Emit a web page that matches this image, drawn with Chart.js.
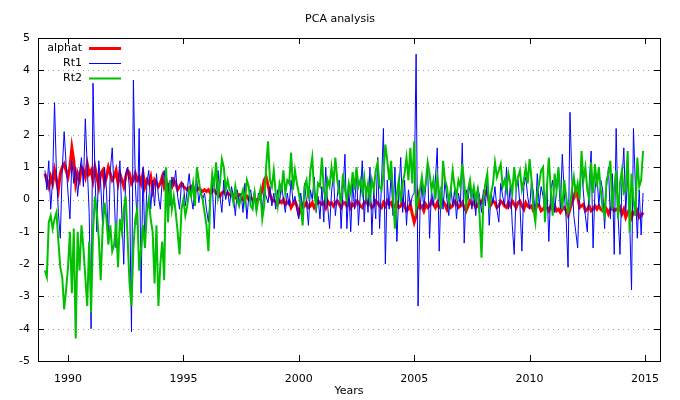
<!DOCTYPE html>
<html>
<head>
<meta charset="utf-8">
<script src="https://cdn.jsdelivr.net/npm/chart.js@4/dist/chart.umd.min.js"></script>
<style>
  body { margin: 0; background: #fff; }
  #box { width: 680px; height: 400px; }
</style>
</head>
<body>
<div id="box"><canvas id="pca" width="680" height="400"></canvas></div>
<script>
// monthly values, Jan 1989 .. Dec 2014 (12 per row)
const startYear = 1989;
const alphat = [
  0.8, 0.6, 0.4, 0.7, 0.5, 0.9, 0.6, 0.3, 0.8, 1.0, 1.1, 0.9,
  0.7, 1.0, 1.6, 1.2, 0.5, 0.8, 0.6, 1.0, 0.9, 0.7, 1.1, 0.8,
  0.9, 0.6, 1.0, 0.7, 0.4, 0.8, 0.9, 0.5, 0.7, 1.0, 0.8, 0.6,
  0.7, 0.9, 0.5, 0.8, 0.6, 0.4, 0.7, 0.9, 0.8, 0.5, 0.6, 0.8,
  0.6, 0.7, 0.5, 0.8, 0.4, 0.6, 0.5, 0.7, 0.3, 0.6, 0.5, 0.4,
  0.5, 0.7, 0.4, 0.6, 0.3, 0.5, 0.4, 0.6, 0.5, 0.3, 0.4, 0.5,
  0.4, 0.35, 0.3, 0.35, 0.4, 0.3, 0.25, 0.3, 0.35, 0.3, 0.25, 0.3,
  0.25, 0.3, 0.2, 0.25, 0.3, 0.2, 0.15, 0.1, 0.2, 0.25, 0.15, 0.2,
  0.15, 0.2, 0.1, 0.05, 0.1, 0.15, 0.1, 0.0, 0.05, 0.1, 0.0, 0.05,
  0.0, 0.05, -0.05, 0.0, 0.1, 0.3, 0.6, 0.7, 0.45, 0.15, 0.0, -0.05,
  -0.05, -0.15, -0.05, -0.1, 0.0, -0.15, -0.1, -0.05, -0.25, -0.15, -0.05, -0.2,
  -0.45, -0.3, -0.15, -0.2, -0.1, -0.25, -0.2, -0.1, -0.25, -0.15, -0.05, -0.1,
  -0.15, -0.1, -0.25, -0.05, -0.15, -0.1, -0.2, -0.1, -0.05, -0.15, -0.25, -0.1,
  -0.1, -0.2, -0.05, -0.25, -0.15, -0.2, -0.05, -0.1, -0.2, -0.25, -0.1, -0.05,
  -0.15, -0.1, -0.25, -0.2, -0.05, -0.1, -0.2, -0.25, -0.1, -0.2, -0.05, -0.15,
  -0.1, -0.25, -0.2, -0.1, -0.25, -0.2, -0.05, -0.2, -0.35, -0.3, -0.15, -0.45,
  -0.7, -0.5, 0.1, -0.25, -0.2, -0.35, -0.15, -0.25, -0.2, -0.05, -0.15, -0.25,
  -0.1, -0.25, -0.2, -0.05, -0.15, -0.3, -0.1, -0.25, -0.2, -0.05, -0.1, -0.25,
  -0.2, -0.1, -0.25, -0.35, -0.2, -0.05, -0.15, -0.1, -0.25, -0.2, -0.05, -0.1,
  0.05, 0.25, 0.2, -0.05, -0.15, -0.05, -0.1, -0.25, -0.2, -0.05, -0.1, -0.2,
  -0.25, -0.1, -0.2, -0.05, -0.15, -0.25, -0.1, -0.05, -0.2, -0.3, -0.1, -0.2,
  -0.25, -0.2, -0.35, -0.3, -0.15, -0.2, -0.35, -0.3, -0.2, -0.25, -0.35, -0.2,
  -0.3, -0.2, -0.35, -0.3, -0.4, -0.3, -0.25, -0.35, -0.5, -0.3, -0.1, 0.05,
  0.3, 0.1, -0.25, -0.2, -0.15, -0.35, -0.3, -0.2, -0.35, -0.3, -0.2, -0.3,
  -0.2, -0.3, -0.35, -0.2, -0.3, -0.45, -0.3, -0.25, -0.35, -0.3, -0.35, -0.25,
  -0.45, -0.3, -0.55, -0.4, -0.3, -0.55, -0.4, -0.45, -0.35, -0.55, -0.5, -0.4
];
const rt1 = [
  0.9, 0.3, 1.2, -0.3, 0.6, 3.0, 0.8, -0.4, -1.2, 0.9, 2.1, 1.1,
  0.2, -0.6, 1.2, 0.5, 1.0, 0.1, 0.8, 1.3, 0.4, 2.5, 1.0, -0.4,
  -4.0, 3.6, 0.8, -1.0, 1.2, 0.5, -0.8, 1.0, 0.3, -1.3, 0.9, 1.6,
  0.2, -1.5, 0.5, 1.2, -0.5, -2.0, 0.8, 1.0, 0.3, -4.1, 3.7, 0.5,
  -0.8, 2.2, -2.9, 1.0, -1.5, 0.5, 0.9, -0.3, 0.6, -0.2, 0.8, 0.1,
  -0.3, 0.6, 0.9, 0.2, 0.5, -0.2, 0.7, 0.4, 0.9, 0.1, -0.3, 0.5,
  0.5, -0.2, 0.3, 0.8, 0.1, -0.3, 0.4, 0.6, -0.1, 0.3, 0.0, 0.2,
  -0.3, -0.7, 0.2, 0.5, -0.9, 0.3, 0.9, 0.1, -0.4, 0.6, 0.0, 0.3,
  -0.2, 0.4, 0.1, -0.5, 0.3, -0.1, 0.2, -0.4, 0.5, -0.6, 0.1, 0.3,
  -0.2, 0.3, -0.4, 0.2, 0.0, -0.3, 0.3, 0.1, -0.1, 0.4, -0.2, 0.2,
  -0.3, 0.3, -0.1, 0.5, 0.0, -0.4, 0.2, -0.2, 0.6, -0.1, 0.1, -0.3,
  -0.6, 0.2, -0.3, 0.5, -0.1, -0.8, 0.3, 0.0, 0.7, -0.4, 0.1, -0.6,
  0.4, -0.7, 1.0, -0.2, -0.9, 0.2, 0.8, -0.5, 0.1, 0.6, -0.9, 0.3,
  1.4, -0.9, 0.3, -1.0, 0.5, -0.3, 0.9, -0.8, 0.2, 1.2, -0.7, 0.4,
  -0.4, 1.0, -1.1, 0.3, -0.6, 1.3, -0.9, 0.5, 2.2, -2.0, 0.6, -0.3,
  0.8, -0.5, 1.0, -1.3, 0.2, 1.3, -0.4, 0.6, -0.8, 0.3, -0.2, 0.1,
  0.2, 4.5, -3.3, -0.4, 0.5, -0.3, 0.4, 1.0, -1.2, 0.3, -0.2, 0.6,
  1.6, -1.6, 0.4, -0.3, 0.6, 0.0, -0.5, 0.4, -0.2, 0.3, -0.6, 0.2,
  -0.2, 1.75, -1.35, 0.3, 0.0, 0.5, -0.3, 0.2, -0.5, 0.4, 0.1, -0.4,
  0.3, -0.2, 0.7, -0.8, 0.2, -0.1, 0.4, -0.3, -0.7, 0.5, 0.1, -0.2,
  1.0, -0.3, 0.5, -0.8, -1.7, 0.3, 0.6, -0.2, -1.6, 0.4, 0.7, 0.1,
  -0.3, 0.6, 0.2, -0.5, 0.8, -0.2, 0.4, 0.1, -0.4, 0.5, -1.3, 0.3,
  0.6, -0.4, 0.3, 0.8, -0.3, 1.4, 0.2, -0.6, -2.1, 2.7, 0.6, -0.5,
  -1.0, -1.5, 0.4, 1.0, 0.2, -0.5, -1.0, 0.5, 1.5, -1.5, 0.3, 0.8,
  -0.2, 0.6, 0.3, -0.9, 0.4, 1.0, -0.6, 0.8, -1.7, 2.2, -0.5, -1.7,
  0.5, 1.6, -0.4, 0.8, -0.6, -2.8, 2.2, 0.4, -1.2, 0.3, -1.1, 0.2
];
const rt2 = [
  -2.2, -2.4, -0.7, -0.5, -0.9, -0.6, -0.4, -1.3, -2.1, -2.4, -3.4, -2.8,
  -2.1, -1.0, -2.9, -0.9, -4.3, -1.0, -2.2, -0.8, -1.5, -2.4, -3.3, -1.3,
  -3.5, -1.0, 0.1, -0.4, -1.2, -2.5, -0.9, -0.1, -0.6, -1.4, -0.8, -1.6,
  -1.4, -0.7, -2.1, -0.6, -1.0, -0.3, 0.1, -1.2, -2.6, -3.3, -1.5, -0.6,
  -0.3, -2.2, -1.5, -0.8, -1.5, -0.4, 0.0, -0.6, -1.0, -2.6, -0.8, -3.3,
  -2.0, -1.3, -2.5, 1.0, -0.7, 0.6, -0.3, 0.1, -0.4, -1.0, -1.7, -0.3,
  0.0, -0.5, -0.2, 0.3, 0.1, 0.5, -0.2, 1.0, 0.6, 0.2, 0.0, -0.4,
  -0.8, -1.6, 0.0, 0.8, 0.4, 1.15, 0.1, 0.5, 1.25, 1.0, 0.3, 0.6,
  0.3, 0.2, -0.1, 0.4, 0.0, -0.2, 0.1, 0.3, -0.1, 0.6, 0.4, -0.2,
  -0.3, 0.2, -0.35, 0.0, 0.3, -0.6, -0.2, 1.0, 1.8, 0.6, 0.4, 0.9,
  0.2, -0.2, 0.5, 0.3, 0.9, 0.2, 0.6, 0.5, 1.45, 0.3, 0.9, 0.5,
  0.2, -0.2, -0.8, 0.4, 0.6, 0.0, 0.9, 1.3, 0.2, -0.2, 0.5, 0.4,
  1.3, 0.3, 0.0, 0.6, 0.4, 1.0, 0.5, 1.3, 0.6, 0.2, 0.0, 0.8,
  0.3, 0.0, 0.5, 0.2, 0.85, 0.3, 1.0, 0.4, 0.6, 0.2, 0.7, 0.1,
  0.5, 0.0, 0.6, 0.3, 0.9, 1.15, 0.4, 0.3, 0.8, 1.7, 1.2, 0.6,
  1.2, 0.1, -0.9, 0.2, 0.6, -0.1, 0.5, 0.8, 1.3, 0.6, 1.6, 0.5,
  1.8, -0.3, 0.0, 0.3, 0.7, 0.2, 0.5, 1.15, 0.8, 0.3, 0.6, 0.0,
  0.7, 0.2, -0.3, 1.2, 0.6, 0.4, -0.1, 0.3, 0.9, 0.4, 0.1, 0.6,
  0.4, 1.1, 0.5, -0.2, 0.3, 0.6, 0.1, 0.4, 0.0, 0.3, -0.5, -1.8,
  0.0, 0.5, 0.8, -0.3, 0.2, 0.5, 1.15, 0.7, 0.9, 1.1, 0.4, 0.6,
  0.3, 0.8, 0.5, 0.2, 1.0, 0.4, 0.7, 0.9, 0.3, 0.6, 1.0, 0.5,
  1.25, 0.6, -0.3, -0.7, 0.2, 0.5, 0.9, 1.0, -0.7, 0.4, 1.3, 0.3,
  -0.5, 0.8, 0.3, 1.0, 0.2, -0.3, 0.6, 0.1, -0.4, -0.2, 0.3, 0.7,
  0.2, 0.5, 0.0, 1.5, 0.6, 1.0, 0.3, 0.0, 1.15, 0.2, 1.1, 0.4,
  1.0, 0.3, -0.3, -0.5, 0.6, 0.8, 1.2, -0.3, 0.4, 0.9, -0.6, 0.5,
  0.9, 0.2, 0.3, 1.5, -1.0, 0.8, 0.0, -0.5, 1.3, 0.4, 0.6, 1.5
];
const seriesNames = ['alphat', 'Rt1', 'Rt2'];
const seriesColors = ['#ff0000', '#0000ff', '#00c000'];
const seriesWidths = [3, 1, 2];
const xTicks = [1990, 1995, 2000, 2005, 2010, 2015];
const yTicks = [-5, -4, -3, -2, -1, 0, 1, 2, 3, 4, 5];

const FONT = 'DejaVu Sans';

function toPoints(vals) {
  return vals.map((v, i) => ({ x: startYear + i / 12, y: v }));
}

const gnuplotBits = {
  id: 'gnuplotBits',
  beforeDatasetsDraw(chart) {
    const { ctx, chartArea: a, scales } = chart;
    ctx.save();
    ctx.strokeStyle = '#a0a0a0';
    ctx.lineWidth = 1;
    ctx.setLineDash([1, 4]);
    yTicks.forEach(v => {
      const y = Math.round(scales.y.getPixelForValue(v)) + 0.5;
      ctx.beginPath();
      ctx.moveTo(a.left, y);
      ctx.lineTo(a.right, y);
      ctx.stroke();
    });
    ctx.restore();
  },
  afterDraw(chart) {
    const { ctx, chartArea: a, scales } = chart;
    ctx.save();
    ctx.strokeStyle = '#000';
    ctx.lineWidth = 1;
    // tick marks, pointing inwards, mirrored
    xTicks.forEach(v => {
      const x = Math.round(scales.x.getPixelForValue(v)) + 0.5;
      ctx.beginPath();
      ctx.moveTo(x, a.bottom); ctx.lineTo(x, a.bottom - 6);
      ctx.moveTo(x, a.top); ctx.lineTo(x, a.top + 6);
      ctx.stroke();
    });
    yTicks.forEach(v => {
      const y = Math.round(scales.y.getPixelForValue(v)) + 0.5;
      ctx.beginPath();
      ctx.moveTo(a.left, y); ctx.lineTo(a.left + 6, y);
      ctx.moveTo(a.right, y); ctx.lineTo(a.right - 6, y);
      ctx.stroke();
    });
    ctx.strokeRect(Math.round(a.left) + 0.5, Math.round(a.top) + 0.5,
      Math.round(a.right - a.left), Math.round(a.bottom - a.top));

    // title and x label
    ctx.fillStyle = '#000';
    ctx.font = '11px "' + FONT + '"';
    ctx.textAlign = 'center';
    ctx.textBaseline = 'middle';
    ctx.fillText('PCA analysis', 340, 19);
    ctx.fillText('Years', (a.left + a.right) / 2, 391);

    // key, top left
    ctx.textAlign = 'right';
    seriesNames.forEach((name, i) => {
      const y = 48 + i * 15;
      ctx.fillStyle = '#000';
      ctx.fillText(name, 82, y);
      ctx.strokeStyle = seriesColors[i];
      ctx.lineWidth = seriesWidths[i];
      ctx.beginPath();
      ctx.moveTo(89, y + 0.5);
      ctx.lineTo(121, y + 0.5);
      ctx.stroke();
    });
    ctx.restore();
  }
};

new Chart(document.getElementById('pca'), {
  type: 'line',
  data: {
    datasets: [alphat, rt1, rt2].map((vals, i) => ({
      label: seriesNames[i],
      data: toPoints(vals),
      borderColor: seriesColors[i],
      backgroundColor: seriesColors[i],
      borderWidth: seriesWidths[i],
      pointRadius: 0,
      tension: 0,
      fill: false,
      order: 3 - i
    }))
  },
  options: {
    responsive: false,
    animation: false,
    events: [],
    layout: { padding: { top: 38, right: 20, left: 0, bottom: 0 } },
    plugins: { legend: { display: false }, title: { display: false }, tooltip: { enabled: false } },
    scales: {
      x: {
        type: 'linear',
        min: 1988.7,
        max: 2015.65,
        afterBuildTicks: s => { s.ticks = xTicks.map(v => ({ value: v })); },
        afterFit: s => { s.height = 39; },
        grid: { display: false, drawTicks: false },
        border: { display: false },
        ticks: { color: '#000', padding: 12, maxRotation: 0, font: { family: FONT, size: 11 }, callback: v => String(v) }
      },
      y: {
        min: -5,
        max: 5,
        afterBuildTicks: s => { s.ticks = yTicks.map(v => ({ value: v })); },
        afterFit: s => { s.width = 38; },
        grid: { display: false, drawTicks: false },
        border: { display: false },
        ticks: { color: '#000', padding: 8, font: { family: FONT, size: 11 } }
      }
    }
  },
  plugins: [gnuplotBits]
});
</script>
</body>
</html>
